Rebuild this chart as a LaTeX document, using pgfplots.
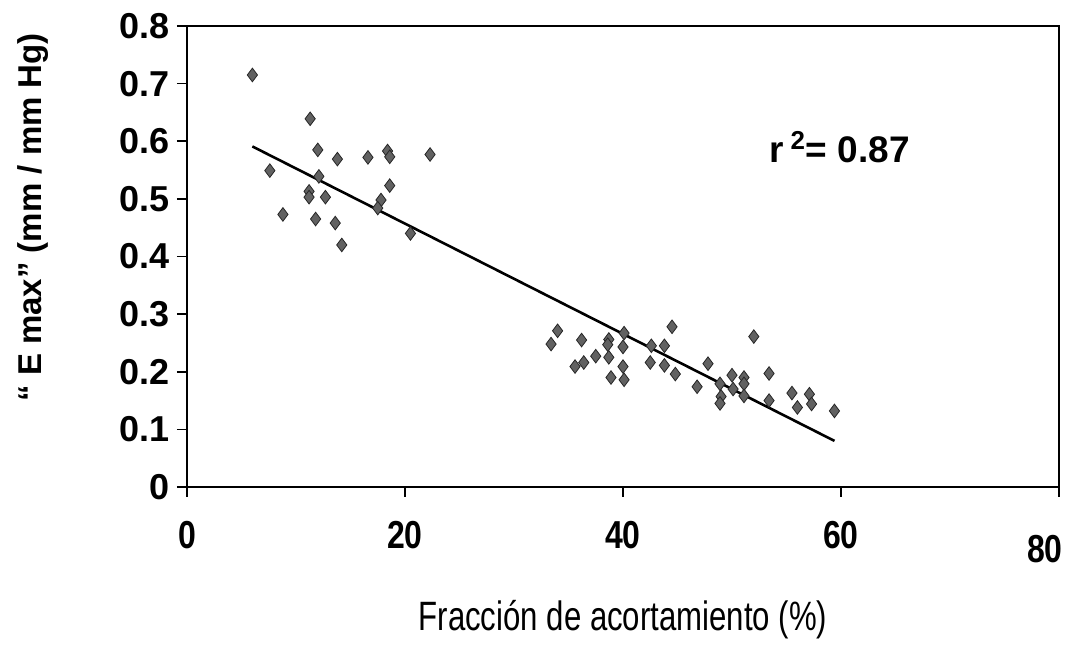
\documentclass[border=0pt]{standalone}
\usepackage{fontspec}
\setmainfont{Liberation Sans}
\newfontfamily\narrowfont[FakeStretch=0.82]{Liberation Sans}
\newfontfamily\labelfont[FakeStretch=0.76]{Liberation Sans}
\usepackage{pgfplots}
\pgfplotsset{compat=1.18}

% fraccion de acortamiento (%) vs "E max" (mm / mm Hg)
\pgfplotstableread{
x y
6.0 0.715
11.3 0.639
12.0 0.585
13.8 0.569
16.6 0.572
18.4 0.583
18.6 0.573
22.3 0.577
7.6 0.549
12.1 0.539
18.6 0.523
11.2 0.513
11.2 0.503
12.7 0.503
17.8 0.498
17.5 0.484
8.8 0.473
11.8 0.465
13.6 0.458
20.5 0.440
14.2 0.420
34.0 0.271
33.4 0.248
36.2 0.255
38.7 0.256
38.6 0.247
40.1 0.267
40.0 0.243
44.5 0.278
52.0 0.261
42.6 0.245
43.8 0.245
37.5 0.227
38.7 0.225
36.4 0.216
35.6 0.209
40.0 0.209
42.5 0.216
43.8 0.211
47.8 0.214
44.8 0.196
38.9 0.190
40.1 0.186
46.8 0.174
50.0 0.194
51.1 0.190
51.1 0.179
53.4 0.197
48.9 0.179
50.1 0.170
51.1 0.158
49.0 0.157
48.9 0.145
53.4 0.150
55.5 0.163
57.1 0.161
57.3 0.144
56.0 0.138
59.4 0.132
}\datos

\begin{document}
\begin{tikzpicture}
\begin{axis}[
    scale only axis,
    width=436pt, height=230.5pt,
    xmin=0, xmax=80, ymin=0, ymax=0.8,
    xtick={0,20,40,60},
    extra x ticks={80},
    extra x tick style={xticklabel style={yshift=-7pt, xshift=-7pt}},
    ytick={0,0.1,0.2,0.3,0.4,0.5,0.6,0.7,0.8},
    yticklabel style={/pgf/number format/fixed, /pgf/number format/precision=1},
    /pgf/number format/assume math mode=true,
    tick align=outside,
    xtick pos=left, ytick pos=left,
    major tick length=5pt,
    tick style={black, line width=0.8pt},
    axis line style={black, line width=1pt},
    xticklabel style={font=\narrowfont\bfseries\fontsize{19.5}{22}\selectfont, anchor=center, yshift=-19pt},
    yticklabel style={font=\bfseries\fontsize{18}{20}\selectfont},
    xlabel={Fracción de acortamiento (\%)},
    ylabel={“ E max” (mm / mm Hg)},
    xlabel style={font=\labelfont\fontsize{20.5}{24}\selectfont, at={(axis description cs:0.5,-0.2885)}, anchor=center},
    ylabel style={font=\bfseries\fontsize{16.5}{19}\selectfont, at={(axis description cs:-0.177,0.585)}, anchor=center},
    clip=false,
]
\addplot[only marks, mark=diamond*, mark size=3.4pt,
    mark options={fill=black!62, draw=black!85, line width=0.4pt}]
    table[x=x, y=y] {\datos};
\addplot[black, line width=1.3pt] coordinates {(6.0,0.591) (59.4,0.080)};
\node[font=\bfseries\fontsize{18.5}{21}\selectfont] at (axis cs:59.9,0.59) {r\,\textsuperscript{2}= 0.87};
\end{axis}
\pgfresetboundingbox
\path (-93.5pt,-82pt) rectangle (442.5pt,243.5pt);
\end{tikzpicture}
\end{document}
